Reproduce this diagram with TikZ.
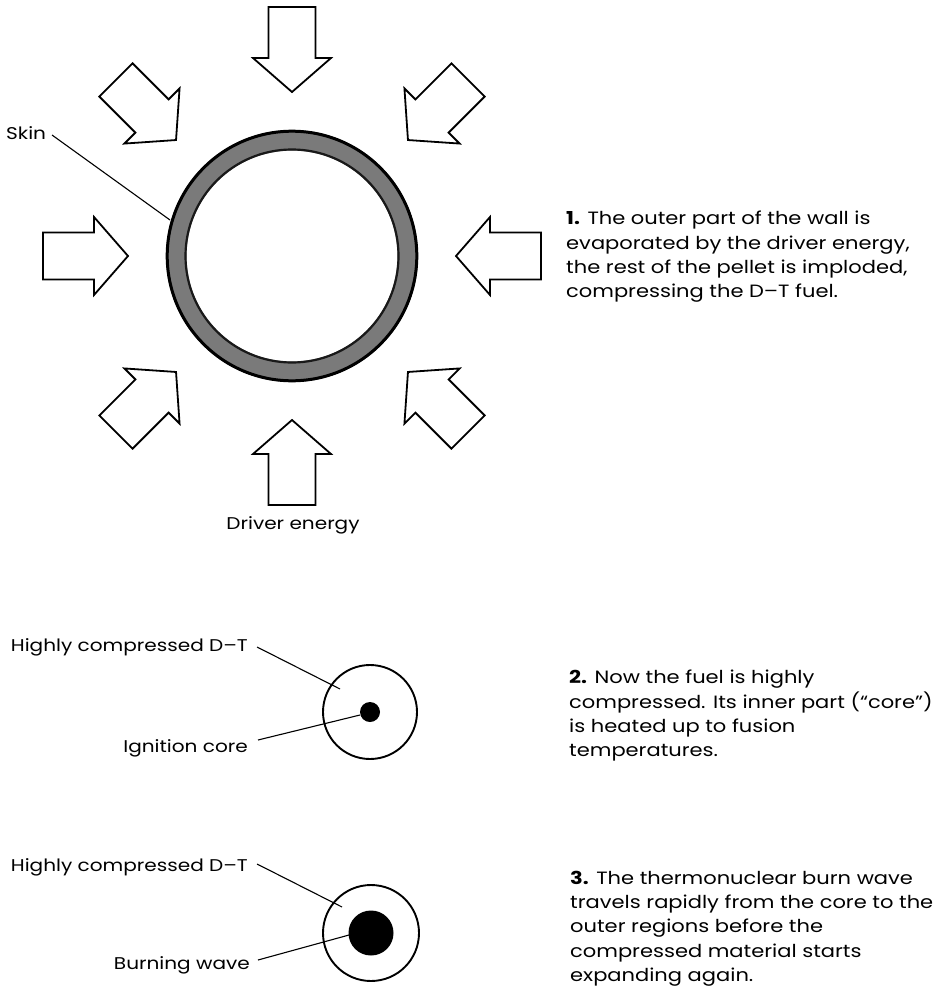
\documentclass[tikz,border=0pt]{standalone}
\usepackage{fontspec}
\setmainfont{Poppins}[FakeStretch=1.18]
\begin{document}
\begin{tikzpicture}[x=1pt,y=-1pt,
  lbl/.style={inner sep=0pt, font=\fontsize{17}{24}\selectfont},
  para/.style={inner sep=0pt, align=left, anchor=north west, font=\fontsize{17.8}{24.2}\selectfont},
  blockarrow/.style={draw=black, line width=1.8pt, fill=white, line join=miter},
  leader/.style={draw=black, line width=1.1pt},
  pelletline/.style={draw=black, line width=1.9pt}]
\useasboundingbox (0,0) rectangle (935,988);

% ---- Panel 1: ring and driver beams ----
\coordinate (c1) at (292,256);
\fill[black!52, even odd rule] (c1) circle (126) (c1) circle (105.5);
\draw[line width=3pt, black] (c1) circle (124.8);
\draw[line width=2.2pt, black!90] (c1) circle (106.5);
\node[draw=none, circle, minimum size=252pt, inner sep=0pt] (ring) at (c1) {};

\foreach \a in {0,45,...,315}{
  \draw[blockarrow, shift={(c1)}, rotate=\a]
    (164,0) -- (198,39) -- (198,23.5) -- (249,23.5) -- (249,-23.5)
    -- (198,-23.5) -- (198,-39) -- cycle;
}

\node[lbl, anchor=west] (skin) at (6,133) {Skin};
\coordinate (skinA) at (52,135);
\coordinate (skinB) at (170,220);
\draw[leader] (skinA) -- (skinB);

\node[lbl, anchor=base] (driver) at (293,529) {Driver energy};

\node[para] (t1) at (566,211) {\textbf{1.} The outer part of the wall is\\
evaporated by the driver energy,\\
the rest of the pellet is imploded,\\
compressing the D–T fuel.};

% ---- Panel 2 ----
\node[pelletline, circle, minimum size=94pt, inner sep=0pt] (p2) at (370,712) {};
\node[fill=black, circle, minimum size=20pt, inner sep=0pt] (core2) at (370,712) {};
\node[lbl, anchor=base east] (hc2) at (248,651) {Highly compressed D–T};
\node[lbl, anchor=base east] (ign) at (248,752) {Ignition core};
\coordinate (hc2A) at (257,647);
\coordinate (hc2B) at (340,689);
\coordinate (ignA) at (258,740);
\coordinate (ignB) at (360,715);
\draw[leader] (hc2A) -- (hc2B);
\draw[leader] (ignA) -- (ignB);

\node[para] (t2) at (569,670) {\textbf{2.} Now the fuel is highly\\
compressed. Its inner part (“core”)\\
is heated up to fusion\\
temperatures.};

% ---- Panel 3 ----
\node[pelletline, circle, minimum size=96pt, inner sep=0pt] (p3) at (371,933) {};
\node[fill=black, circle, minimum size=45pt, inner sep=0pt] (wave) at (371,933) {};
\node[lbl, anchor=base east] (hc3) at (248,871) {Highly compressed D–T};
\node[lbl, anchor=base east] (burn) at (250,969) {Burning wave};
\coordinate (hc3A) at (257,864);
\coordinate (hc3B) at (342,907);
\coordinate (burnA) at (258,960);
\coordinate (burnB) at (349,935);
\draw[leader] (hc3A) -- (hc3B);
\draw[leader] (burnA) -- (burnB);

\node[para] (t3) at (570,871) {\textbf{3.} The thermonuclear burn wave\\
travels rapidly from the core to the\\
outer regions before the\\
compressed material starts\\
expanding again.};
\end{tikzpicture}
\end{document}
